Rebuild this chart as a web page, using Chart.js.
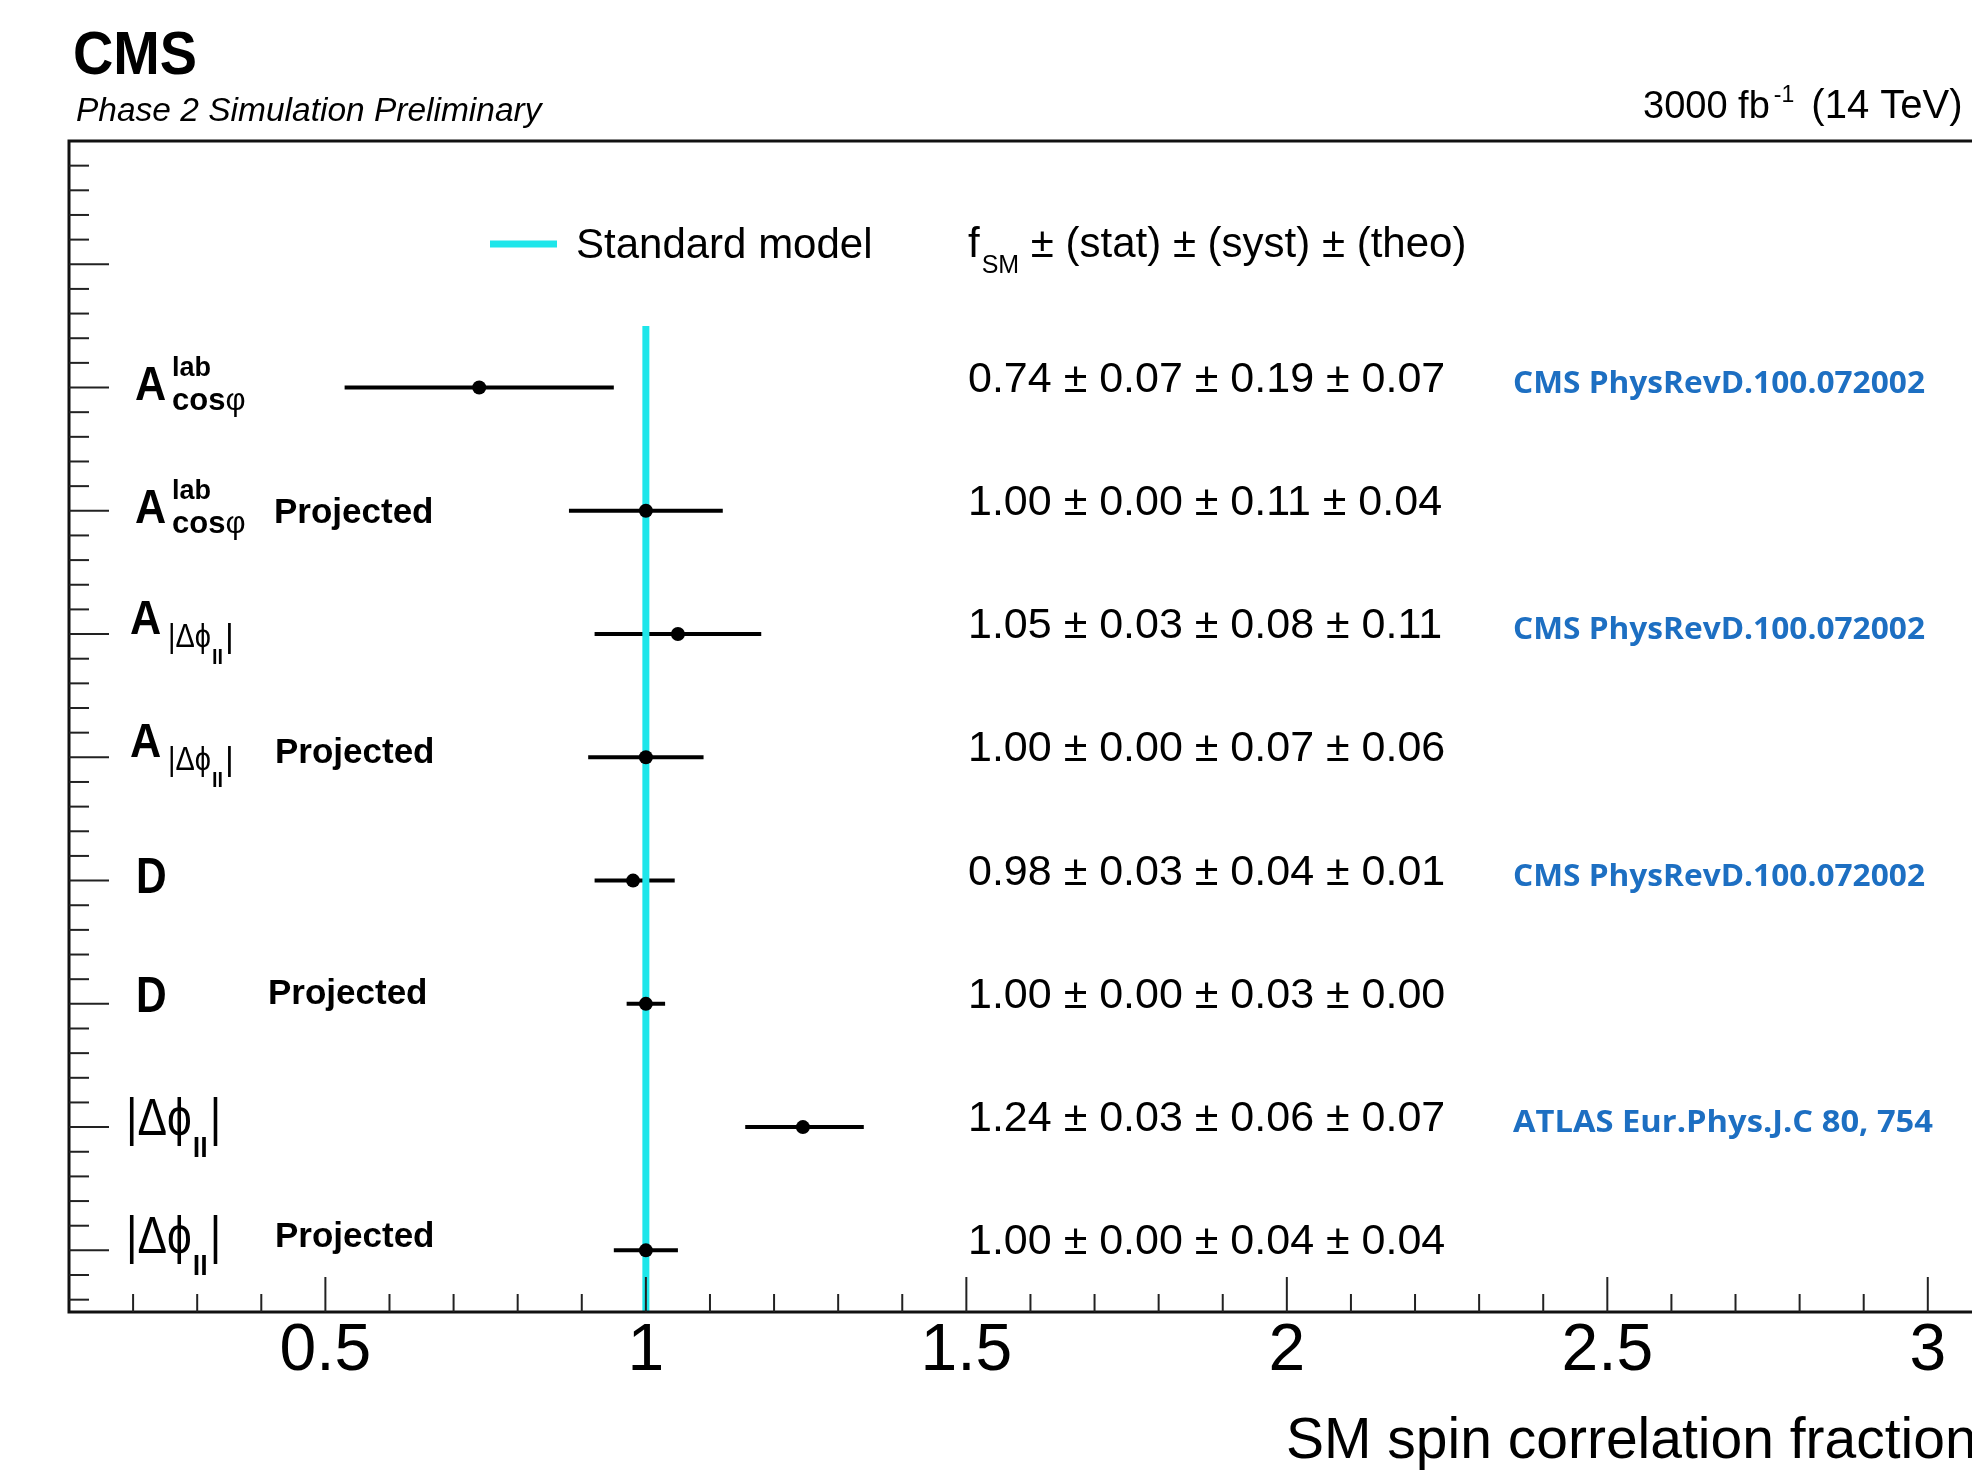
<!DOCTYPE html>
<html>
<head>
<meta charset="utf-8">
<script src="https://cdn.jsdelivr.net/npm/chart.js@4.4.1/dist/chart.umd.min.js"></script>
<style>
  html, body { margin: 0; padding: 0; background: #fff; overflow: hidden; }
  #wrap { width: 2080px; height: 1476px; }
</style>
</head>
<body>
<div id="wrap"><canvas id="spinChart" width="2080" height="1476"></canvas></div>
<script>
// values, top row first
const categories = ['Acos', 'Acos', 'Adphi', 'Adphi', 'D', 'D', 'dphi', 'dphi'];
const projected = [false, true, false, true, false, true, false, true];
const rowPositions = [7.5, 6.5, 5.5, 4.5, 3.5, 2.5, 1.5, 0.5];
const fsmValues = [0.74, 1.00, 1.05, 1.00, 0.98, 1.00, 1.245, 1.00];
const errLow = [0.21, 0.12, 0.13, 0.09, 0.06, 0.03, 0.09, 0.05];
const errHigh = [0.21, 0.12, 0.13, 0.09, 0.065, 0.03, 0.095, 0.05];
const resultLabels = [
    '0.74 ± 0.07 ± 0.19 ± 0.07',
    '1.00 ± 0.00 ± 0.11 ± 0.04',
    '1.05 ± 0.03 ± 0.08 ± 0.11',
    '1.00 ± 0.00 ± 0.07 ± 0.06',
    '0.98 ± 0.03 ± 0.04 ± 0.01',
    '1.00 ± 0.00 ± 0.03 ± 0.00',
    '1.24 ± 0.03 ± 0.06 ± 0.07',
    '1.00 ± 0.00 ± 0.04 ± 0.04'
];
const references = [
    'CMS PhysRevD.100.072002', '',
    'CMS PhysRevD.100.072002', '',
    'CMS PhysRevD.100.072002', '',
    'ATLAS Eur.Phys.J.C 80, 754', ''
];
const smValue = 1.0;
const smLineTop = 8.0;

const FONT = '"Liberation Sans", Arial, Helvetica, sans-serif';
const REF_FONT = 'bold 31px "Open Sans", sans-serif';
const SM_COLOR = '#1ee6ea';

// error bars: one small line per row
const datasets = [];
rowPositions.forEach((y, i) => {
    datasets.push({
        showLine: true,
        data: [{ x: fsmValues[i] - errLow[i], y: y }, { x: fsmValues[i] + errHigh[i], y: y }],
        borderColor: '#000',
        borderWidth: 4,
        pointRadius: 0,
        fill: false,
        order: 3
    });
});
// standard model line
datasets.push({
    showLine: true,
    data: [{ x: smValue, y: 0 }, { x: smValue, y: smLineTop }],
    borderColor: SM_COLOR,
    borderWidth: 7,
    pointRadius: 0,
    fill: false,
    order: 2
});
// central values
datasets.push({
    data: rowPositions.map((y, i) => ({ x: fsmValues[i], y: y })),
    backgroundColor: '#000',
    borderWidth: 0,
    pointRadius: 7,
    pointStyle: 'circle',
    order: 1
});

function txt(ctx, s, x, y, font, color, sx) {
    sx = sx || 1;
    ctx.font = font;
    ctx.fillStyle = color || '#000';
    ctx.save();
    ctx.translate(x, y);
    ctx.scale(sx, 1);
    ctx.fillText(s, 0, 0);
    ctx.restore();
    return x + ctx.measureText(s).width * sx;
}

function drawRowLabel(ctx, kind, py, proj) {
    let x;
    if (kind === 'Acos') {
        txt(ctx, 'A', 135, py + 12, 'bold 48px ' + FONT, null, 0.9);
        txt(ctx, 'lab', 172, py - 12, 'bold 27px ' + FONT);
        x = txt(ctx, 'cos', 172, py + 22, 'bold 31px ' + FONT);
        txt(ctx, 'φ', x, py + 22, '31px ' + FONT);
        if (proj) txt(ctx, 'Projected', 274, py + 12, 'bold 35px ' + FONT);
    } else if (kind === 'Adphi') {
        txt(ctx, 'A', 130, py, 'bold 48px ' + FONT, null, 0.9);
        x = txt(ctx, '|Δϕ', 168, py + 13, '34px ' + FONT, null, 0.85);
        x = txt(ctx, 'll', x + 1, py + 30, 'bold 20px ' + FONT);
        txt(ctx, '|', x + 2, py + 13, '34px ' + FONT);
        if (proj) txt(ctx, 'Projected', 275, py + 6, 'bold 35px ' + FONT);
    } else if (kind === 'D') {
        txt(ctx, 'D', 136, py + (proj ? 8 : 12), 'bold 50px ' + FONT, null, 0.85);
        if (proj) txt(ctx, 'Projected', 268, py, 'bold 35px ' + FONT);
    } else {
        const base = proj ? py + 3 : py + 8;
        x = txt(ctx, '|Δϕ', 126, base, '52px ' + FONT, null, 0.85);
        x = txt(ctx, 'll', x + 1, base + 22, 'bold 27px ' + FONT);
        txt(ctx, '|', x + 2, base, '52px ' + FONT, null, 0.85);
        if (proj) txt(ctx, 'Projected', 275, py - 3, 'bold 35px ' + FONT);
    }
}

const decorations = {
    id: 'decorations',
    afterDraw(chart) {
        const ctx = chart.ctx;
        const area = chart.chartArea;
        const xs = chart.scales.x;
        const ys = chart.scales.y;
        ctx.save();

        // frame
        ctx.strokeStyle = '#111';
        ctx.lineWidth = 3;
        ctx.strokeRect(area.left, area.top, area.right - area.left, area.bottom - area.top);

        // inward ticks, ROOT style
        ctx.lineWidth = 2;
        ctx.strokeStyle = '#222';
        xs.ticks.forEach(t => {
            const px = xs.getPixelForValue(t.value);
            if (px <= area.left + 1 || px >= area.right - 1) return;
            const major = Math.abs(t.value * 2 - Math.round(t.value * 2)) < 1e-6;
            ctx.beginPath();
            ctx.moveTo(px, area.bottom);
            ctx.lineTo(px, area.bottom - (major ? 35 : 18));
            ctx.stroke();
        });
        ys.ticks.forEach(t => {
            const py = ys.getPixelForValue(t.value);
            if (py <= area.top + 1 || py >= area.bottom - 1) return;
            const major = Math.abs((t.value - 0.5) - Math.round(t.value - 0.5)) < 1e-6;
            ctx.beginPath();
            ctx.moveTo(area.left, py);
            ctx.lineTo(area.left + (major ? 40 : 20), py);
            ctx.stroke();
        });

        ctx.textAlign = 'left';
        ctx.textBaseline = 'alphabetic';

        // header
        txt(ctx, 'CMS', 73, 74, 'bold 62px ' + FONT, null, 0.9);
        txt(ctx, 'Phase 2 Simulation Preliminary', 76, 121, 'italic 33.5px ' + FONT);
        let x = txt(ctx, '3000 fb', 1643, 118, '38px ' + FONT);
        x = txt(ctx, '-1', x + 4, 102, '23px ' + FONT);
        txt(ctx, ' (14 TeV)', x + 6, 118, '40px ' + FONT);

        // legend
        ctx.strokeStyle = SM_COLOR;
        ctx.lineWidth = 7;
        ctx.beginPath();
        ctx.moveTo(490, 244);
        ctx.lineTo(557, 244);
        ctx.stroke();
        txt(ctx, 'Standard model', 576, 258, '42px ' + FONT);
        x = txt(ctx, 'f', 968, 257, '42px ' + FONT);
        x = txt(ctx, 'SM', x + 2, 273, '25px ' + FONT);
        txt(ctx, ' ± (stat) ± (syst) ± (theo)', x, 257, '42px ' + FONT);

        // rows
        ctx.font = REF_FONT;
        rowPositions.forEach((v, i) => {
            const py = ys.getPixelForValue(v);
            drawRowLabel(ctx, categories[i], py, projected[i]);
            txt(ctx, resultLabels[i], 968, py + 4, '43px ' + FONT);
            if (references[i]) {
                ctx.font = REF_FONT;
                const sx = (references[i].startsWith('CMS') ? 412 : 420) / ctx.measureText(references[i]).width;
                txt(ctx, references[i], 1513, py + 5, REF_FONT, '#1d6fc2', sx);
            }
        });

        // axis title
        txt(ctx, 'SM spin correlation fraction', 1286, 1458, '57px ' + FONT);
        ctx.restore();
    }
};

const chart = new Chart(document.getElementById('spinChart'), {
    type: 'scatter',
    data: { datasets: datasets },
    options: {
        responsive: false,
        animation: false,
        layout: { padding: { top: 141, right: 24, left: 0, bottom: 0 } },
        plugins: {
            legend: { display: false },
            tooltip: { enabled: false }
        },
        scales: {
            x: {
                type: 'linear',
                min: 0.1,
                max: 3.2,
                afterBuildTicks: function(scale) {
                    const t = [];
                    for (let i = 1; i <= 32; i++) t.push({ value: i / 10 });
                    scale.ticks = t;
                },
                afterFit: function(scale) { scale.height = 164; },
                grid: { display: false, drawTicks: false },
                border: { display: false },
                ticks: {
                    autoSkip: false,
                    maxRotation: 0,
                    padding: 23,
                    color: '#000',
                    font: { family: FONT, size: 66, lineHeight: 0.5 },
                    callback: function(value) {
                        return Math.abs(value * 2 - Math.round(value * 2)) < 1e-6 ? String(value) : '';
                    }
                }
            },
            y: {
                type: 'linear',
                min: 0,
                max: 9.5,
                afterBuildTicks: function(scale) {
                    const t = [];
                    for (let i = 1; i <= 93; i += 2) t.push({ value: i / 10 });
                    scale.ticks = t;
                },
                afterFit: function(scale) { scale.width = 69; },
                grid: { display: false, drawTicks: false },
                border: { display: false },
                ticks: { display: false }
            }
        }
    },
    plugins: [decorations]
});
</script>
</body>
</html>
